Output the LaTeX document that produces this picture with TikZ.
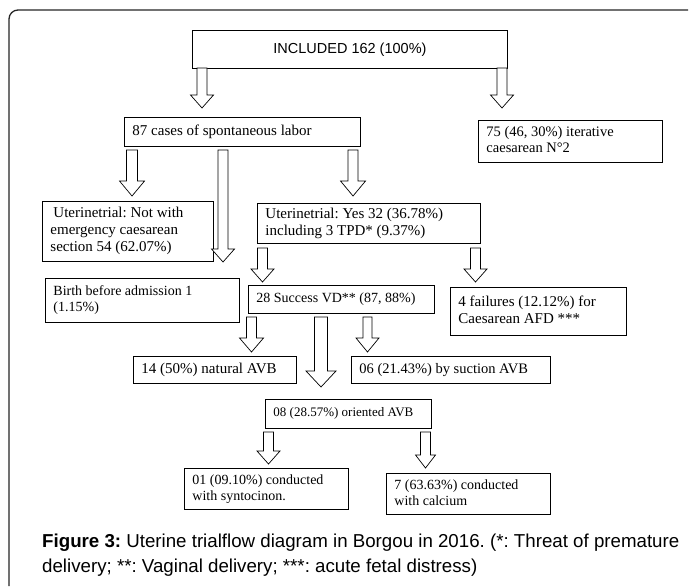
\documentclass[tikz,border=0pt]{standalone}
\usepackage{fontspec}
\setmainfont{Liberation Serif}
\newfontfamily\arialf{Liberation Sans}
\usetikzlibrary{calc}
\tikzset{
  box/.style={draw=black, line width=0.9pt, inner xsep=8pt, inner ysep=2pt,
    anchor=north west, fill=white},
  blockarrow/.style={draw=black, line width=0.7pt, fill=white, line join=miter},
  frame/.style={draw=black!85, line width=1.3pt, rounded corners=9pt}
}
% \bx[font size]{name}{x1}{y1}{x2}{y2}{text}
\newcommand\bx[7][15]{%
  \pgfmathsetmacro\bxw{#5-#3}\pgfmathsetmacro\bxh{#6-#4}\pgfmathsetmacro\bxt{#5-#3-16}%
  \pgfmathsetmacro\bxl{#1*17/15}%
  \node[box, minimum width=\bxw pt, minimum height=\bxh pt,
    font=\fontsize{#1}{\bxl}\selectfont\frenchspacing] (#2) at (#3,#4)
    {\makebox[\bxt pt][l]{\begin{tabular}{@{}l@{}}#7\end{tabular}}};}
% \barrow[shaft half, head half, head length]{start}{tip}
\newcommand\barrow[3][5,11.5,13]{%
  \def\bargs{#1}\expandafter\barrowi\bargs\relax{#2}{#3}}
\def\barrowi#1,#2,#3\relax#4#5{%
  \draw[blockarrow] let \p1=(#4), \p2=(#5) in
   (\x1-#1pt,\y1) -- (\x1-#1pt,\y2+#3pt) -- (\x1-#2pt,\y2+#3pt) -- (\x1,\y2)
   -- (\x1+#2pt,\y2+#3pt) -- (\x1+#1pt,\y2+#3pt) -- (\x1+#1pt,\y1) -- cycle;}
\begin{document}
\frenchspacing
\begin{tikzpicture}[x=1pt,y=-1pt]
\useasboundingbox (0,0) rectangle (690,586);
\fill[white] (0,0) rectangle (690,586);
\draw[frame] (688,10) -- (9,10) -- (9,586);

% boxes
\node[draw=black, line width=0.9pt, anchor=north west, minimum width=315pt, minimum height=38pt,
  font=\arialf\fontsize{14.5}{17}\selectfont] (inc) at (192,30) {INCLUDED 162 (100\%)};
\bx[15]{spont}{124}{117}{360}{146}{87 cases of spontaneous labor}
\bx[14.5]{iter}{478}{120}{662}{162}{75 (46, 30\%) iterative\\caesarean N°2}
\bx[15]{notb}{42}{201}{213}{261}{\hspace*{3pt}Uterinetrial: Not with\\emergency caesarean\\section 54 (62.07\%)}
\bx[15]{yes}{257}{203}{480}{243}{Uterinetrial: Yes 32 (36.78\%)\\including 3 TPD* (9.37\%)}
\bx[14]{birth}{45}{278}{239}{322}{Birth before admission 1\\(1.15\%)}
\bx[14]{succ}{248}{285}{434}{313}{28 Success VD** (87, 88\%)}
\bx[15]{fail}{450}{287}{626}{335}{4 failures (12.12\%) for\\Caesarean AFD ***}
\bx[15]{nat}{133}{356}{296}{383}{14 (50\%) natural AVB}
\bx[14.5]{suct}{351}{356}{550}{383}{06 (21.43\%) by suction AVB}
\bx[13]{orie}{265}{399}{431}{428}{08 (28.57\%) oriented AVB}
\bx[14]{synt}{184}{468}{348}{509}{01 (09.10\%) conducted\\with syntocinon.}
\bx[14]{calc}{386}{473}{550}{514}{7 (63.63\%) conducted\\with calcium}

% arrow end points
\coordinate (a1s) at (202,68);  \coordinate (a1e) at (202,108);
\coordinate (a2s) at (502,68);  \coordinate (a2e) at (502,108);
\coordinate (a3s) at (132,150); \coordinate (a3e) at (132,196);
\coordinate (a4s) at (223,150); \coordinate (a4e) at (223,262);
\coordinate (a5s) at (353,150); \coordinate (a5e) at (353,196);
\coordinate (a6s) at (262.5,248); \coordinate (a6e) at (262.5,282);
\coordinate (a7s) at (475.5,248); \coordinate (a7e) at (475.5,282);
\coordinate (a8s) at (251.5,317); \coordinate (a8e) at (251.5,352);
\coordinate (a9s) at (321,317); \coordinate (a9e) at (321,387);
\coordinate (a10s) at (367.5,317); \coordinate (a10e) at (367.5,352);
\coordinate (a11s) at (268.5,432); \coordinate (a11e) at (268.5,464);
\coordinate (a12s) at (425.5,432); \coordinate (a12e) at (425.5,468);

\barrow{a1s}{a1e}
\barrow{a2s}{a2e}
\barrow[5.5,12.5,15]{a3s}{a3e}
\barrow{a4s}{a4e}
\barrow[5,12.5,15]{a5s}{a5e}
\barrow{a6s}{a6e}
\barrow{a7s}{a7e}
\barrow[5,12,14]{a8s}{a8e}
\barrow[6.5,15,16]{a9s}{a9e}
\barrow[4.5,11.5,14]{a10s}{a10e}
\barrow{a11s}{a11e}
\barrow[5,10,13]{a12s}{a12e}

% caption
\node[anchor=north west, inner sep=0pt, align=left, font=\arialf\fontsize{18.7}{25}\selectfont\frenchspacing]
  (cap) at (42,534) {\textbf{Figure 3:} Uterine trialflow diagram in Borgou in 2016. (*: Threat of premature\\
  delivery; **: Vaginal delivery; ***: acute fetal distress)};
\end{tikzpicture}
\end{document}
